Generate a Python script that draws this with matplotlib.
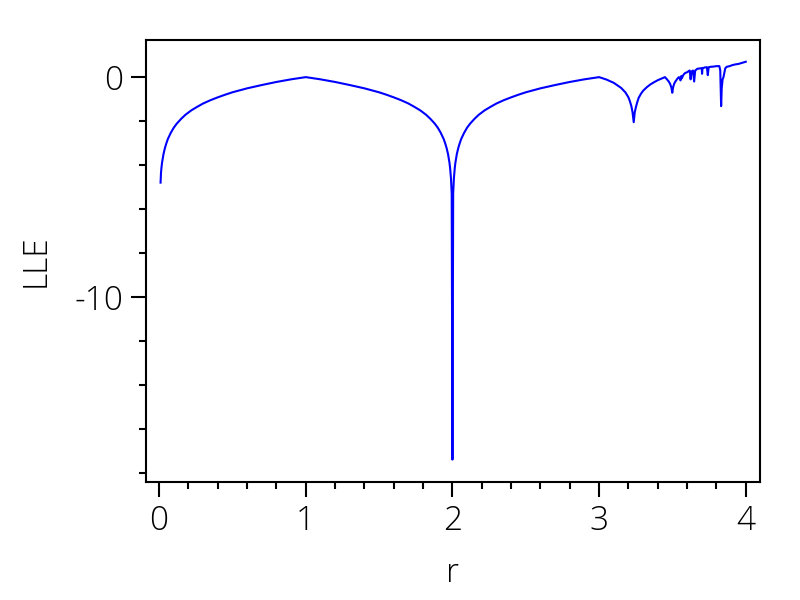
import matplotlib
matplotlib.use('Agg')
import matplotlib.pyplot as plt
from matplotlib.ticker import MultipleLocator

# r values and largest Lyapunov exponent
r_low = [0.01, 0.013, 0.016, 0.02, 0.025, 0.03, 0.04, 0.05, 0.06, 0.08,
         0.1, 0.12, 0.15, 0.18, 0.22, 0.26, 0.3, 0.35, 0.4, 0.45, 0.5,
         0.6, 0.7, 0.8, 0.9, 1.0]
lle_low = [-4.8, -4.35, -4.13, -3.9, -3.69, -3.5, -3.22, -3.0, -2.81,
           -2.53, -2.3, -2.12, -1.9, -1.71, -1.51, -1.35, -1.2, -1.05,
           -0.92, -0.8, -0.69, -0.51, -0.36, -0.22, -0.1, 0.0]

r_mid = [1.1, 1.2, 1.3, 1.4, 1.5, 1.55, 1.6, 1.65, 1.7, 1.74, 1.78, 1.82,
         1.85, 1.88, 1.9, 1.92, 1.94, 1.95, 1.96, 1.97, 1.975, 1.98,
         1.984, 1.987, 1.99, 1.995, 2.0, 2.005, 2.01, 2.013, 2.016, 2.02,
         2.025, 2.03, 2.04, 2.05, 2.06, 2.08, 2.1, 2.12, 2.15, 2.18, 2.22,
         2.26, 2.3, 2.35, 2.4, 2.45, 2.5, 2.6, 2.7, 2.8, 2.9, 3.0]
lle_mid = [-0.1, -0.22, -0.36, -0.51, -0.69, -0.8, -0.92, -1.05, -1.2,
           -1.35, -1.51, -1.71, -1.9, -2.12, -2.3, -2.53, -2.81, -3.0,
           -3.22, -3.5, -3.69, -3.9, -4.13, -4.35, -4.6, -5.3, -17.4, -5.3,
           -4.6, -4.35, -4.13, -3.9, -3.69, -3.5, -3.22, -3.0, -2.81, -2.53,
           -2.3, -2.12, -1.9, -1.71, -1.51, -1.35, -1.2, -1.05, -0.92, -0.8,
           -0.69, -0.51, -0.36, -0.22, -0.1, 0.0]

r_p2 = [3.05, 3.1, 3.15, 3.18, 3.2, 3.21, 3.22, 3.228, 3.236, 3.243,
        3.25, 3.26, 3.27, 3.285, 3.3, 3.325, 3.35, 3.375, 3.4, 3.425,
        3.449]
lle_p2 = [-0.11, -0.26, -0.49, -0.7, -0.92, -1.1, -1.32, -1.6, -2.05,
          -1.6, -1.39, -1.14, -0.94, -0.76, -0.62, -0.46, -0.33, -0.23,
          -0.14, -0.07, 0.0]

r_p4 = [3.46, 3.475, 3.485, 3.493, 3.499, 3.505, 3.512, 3.52, 3.535,
        3.544, 3.55, 3.555]
lle_p4 = [-0.08, -0.2, -0.32, -0.48, -0.71, -0.45, -0.3, -0.2, -0.06,
          0.0, -0.05, -0.15]

r_chaos = [3.56, 3.565, 3.57, 3.58, 3.59, 3.60, 3.61, 3.618, 3.624, 3.63,
           3.64, 3.648, 3.655, 3.67, 3.69, 3.70, 3.702, 3.705, 3.72, 3.735,
           3.741, 3.747, 3.76, 3.78, 3.80, 3.82, 3.826, 3.829, 3.832, 3.836,
           3.842, 3.848, 3.86, 3.87, 3.89, 3.91, 3.93, 3.95, 3.97, 3.99, 4.0]
lle_chaos = [0.05, -0.05, 0.05, 0.15, 0.2, 0.22, 0.27, 0.3, -0.1, 0.25,
             0.3, -0.2, 0.3, 0.38, 0.4, 0.4, 0.15, 0.4, 0.44, 0.45, 0.09,
             0.45, 0.47, 0.48, 0.5, 0.5, 0.3, -0.6, -1.32, -0.5, -0.1, 0.0,
             0.4, 0.47, 0.5, 0.55, 0.58, 0.6, 0.64, 0.68, 0.7]

r = r_low + r_mid + r_p2 + r_p4 + r_chaos
lle = lle_low + lle_mid + lle_p2 + lle_p4 + lle_chaos

plt.rcParams['font.family'] = ['Open Sans', 'DejaVu Sans']

fig = plt.figure(figsize=(8, 6), dpi=100)
ax = fig.add_axes([0.182, 0.197, 0.768, 0.736])
ax.plot(r, lle, color='#0000ff', linewidth=1.5)

ax.set_xlim(-0.092, 4.097)
ax.set_ylim(-18.41, 1.68)
ax.xaxis.set_major_locator(MultipleLocator(1))
ax.xaxis.set_minor_locator(MultipleLocator(0.2))
ax.yaxis.set_major_locator(MultipleLocator(10))
ax.yaxis.set_minor_locator(MultipleLocator(2))
ax.yaxis.set_major_formatter(plt.FuncFormatter(lambda v, p: '%d' % v))

for s in ax.spines.values():
    s.set_linewidth(1.5)
ax.tick_params(which='major', direction='out', length=11, width=1.5,
               labelsize=24, pad=5)
ax.tick_params(which='minor', direction='out', length=5, width=1.5)
for lab in ax.get_xticklabels() + ax.get_yticklabels():
    lab.set_fontweight('light')

ax.set_xlabel('r', fontsize=24, fontweight='light', labelpad=14)
ax.set_ylabel('LLE', fontsize=24, fontweight='light', labelpad=16)

fig.savefig('out.png', dpi=100)
